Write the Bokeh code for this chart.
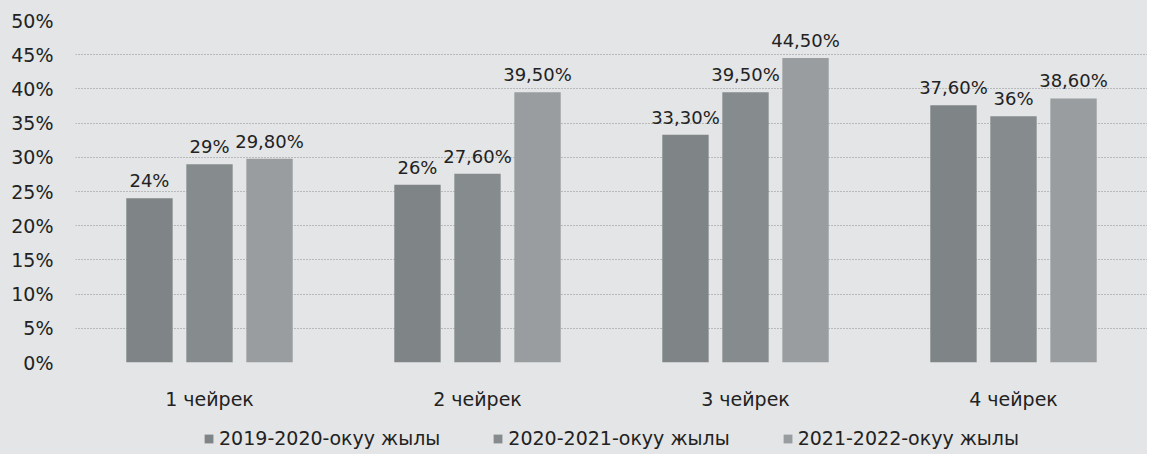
from bokeh.plotting import figure
from bokeh.layouts import column
from bokeh.models import (ColumnDataSource, FactorRange, Range1d, FixedTicker,
                          Legend, LegendItem)
from bokeh.transform import dodge
from bokeh.core.properties import value
from bokeh.embed import file_html
from bokeh.resources import INLINE

categories = ["1 чейрек", "2 чейрек", "3 чейрек", "4 чейрек"]
series_names = ["2019-2020-окуу жылы", "2020-2021-окуу жылы", "2021-2022-окуу жылы"]
s2019 = [24.0, 26.0, 33.3, 37.6]
s2020 = [29.0, 27.6, 39.5, 36.0]
s2021 = [29.8, 39.5, 44.5, 38.6]
y_ticks = [0, 5, 10, 15, 20, 25, 30, 35, 40, 45, 50]
y_tick_labels = ["0%", "5%", "10%", "15%", "20%", "25%", "30%", "35%", "40%", "45%", "50%"]

colors = ["#7f8486", "#868b8d", "#999d9f"]
bg = "#e3e5e6"
font = "DejaVu Sans"


def fmt(v):
    if float(v).is_integer():
        return f"{int(v)}%"
    return f"{v:.2f}".replace(".", ",") + "%"


p = figure(x_range=FactorRange(*categories), y_range=Range1d(0, 50),
           width=1147, height=412, output_backend="svg", toolbar_location=None,
           min_border_left=75, min_border_right=0, min_border_top=20,
           min_border_bottom=44)
p.background_fill_color = bg
p.border_fill_color = bg
p.outline_line_color = None

offsets = [-0.224, 0.0, 0.224]
for vals, off, col in zip([s2019, s2020, s2021], offsets, colors):
    src = ColumnDataSource(dict(cat=categories, val=vals, lab=[fmt(v) for v in vals]))
    p.vbar(x=dodge("cat", off, range=p.x_range), top="val", width=0.173,
           source=src, fill_color=col, line_color=None)
    p.text(x=dodge("cat", off, range=p.x_range), y="val", text="lab", source=src,
           text_align="center", text_baseline="bottom", y_offset=-7,
           text_font=value(font), text_font_size="18px", text_color="#222222")

p.yaxis.ticker = FixedTicker(ticks=y_ticks)
p.yaxis.major_label_overrides = {t: l for t, l in zip(y_ticks, y_tick_labels)}
p.yaxis.axis_line_color = None
p.yaxis.major_tick_line_color = None
p.yaxis.minor_tick_line_color = None
p.yaxis.major_label_standoff = 16
p.yaxis.major_label_text_font = font
p.yaxis.major_label_text_font_size = "19px"
p.yaxis.major_label_text_color = "#222222"

p.xaxis.axis_line_color = None
p.xaxis.major_tick_line_color = None
p.xaxis.major_label_standoff = 19
p.xaxis.major_label_text_font = font
p.xaxis.major_label_text_font_size = "19px"
p.xaxis.major_label_text_color = "#222222"

p.xgrid.grid_line_color = None
p.ygrid.grid_line_color = "#8a8d8f"
p.ygrid.grid_line_dash = "1 2"
p.ygrid.grid_line_width = 1

# legend strip (its renderers hold no visible points; they only supply swatches)
lg = figure(width=1147, height=42, output_backend="svg", toolbar_location=None,
            min_border_left=0, min_border_right=0, min_border_top=0,
            min_border_bottom=0, x_range=Range1d(0, 1), y_range=Range1d(0, 1),
            x_axis_location=None, y_axis_location=None)
lg.background_fill_color = None
lg.border_fill_color = bg
lg.outline_line_color = None
lg.grid.visible = False
nan = float("nan")
items = []
for name, col in zip(series_names, colors):
    r = lg.vbar(x=[nan], top=[nan], width=0.1, fill_color=col, line_color=None)
    items.append(LegendItem(label=name, renderers=[r]))
legend = Legend(items=items, orientation="horizontal", location="bottom_center",
                background_fill_alpha=0.0, border_line_color=None,
                label_text_font=font, label_text_font_size="19px",
                label_text_color="#222222", glyph_width=11, glyph_height=11,
                label_standoff=5, spacing=52, padding=2, margin=5)
lg.add_layout(legend, "center")

layout = column(p, lg, spacing=0)
layout.styles = {"background-color": bg}
open("out.html", "w").write(file_html(layout, INLINE))
